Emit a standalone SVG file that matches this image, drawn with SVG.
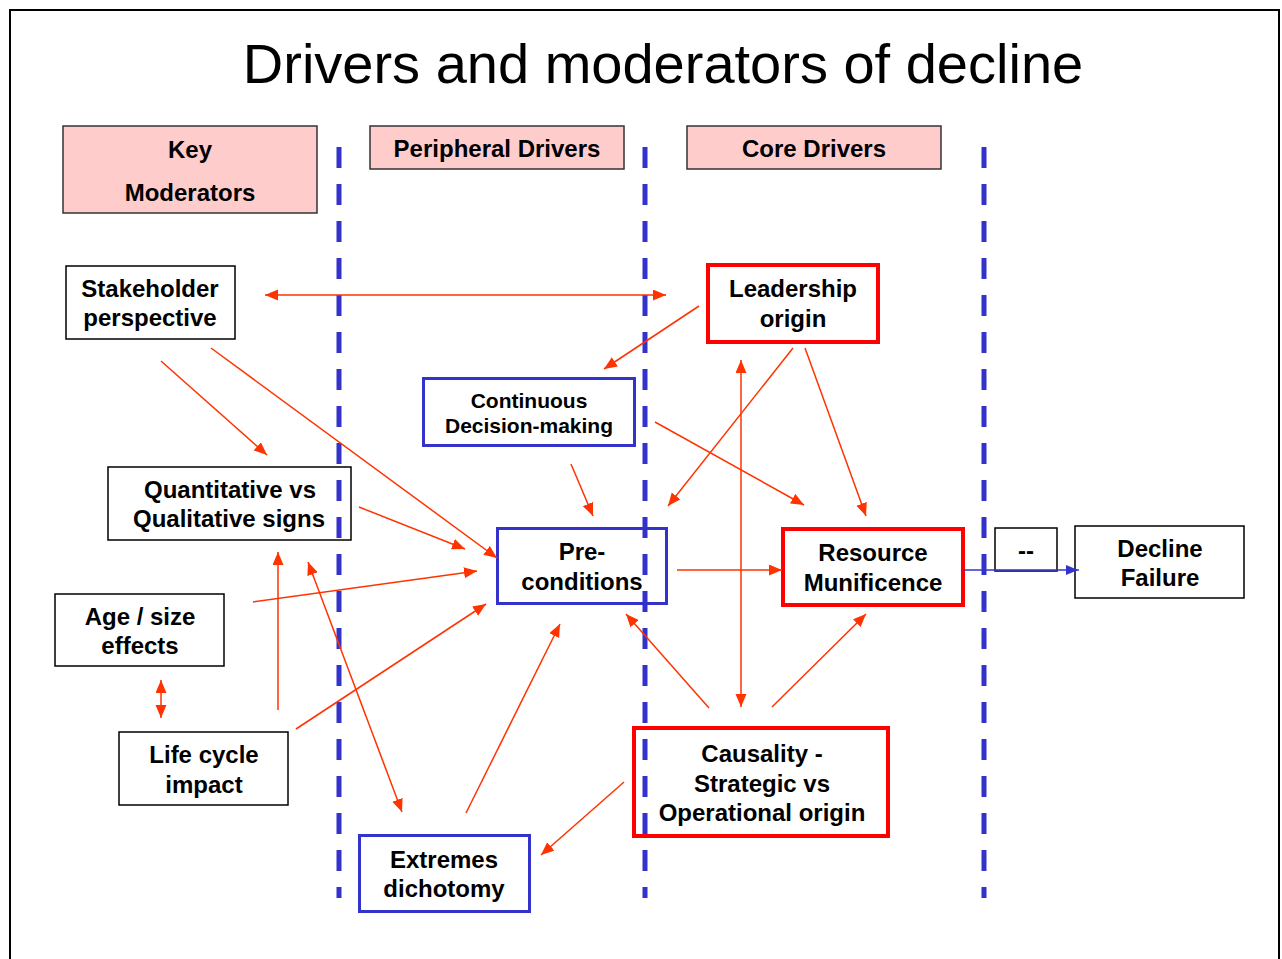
<svg xmlns="http://www.w3.org/2000/svg" width="1282" height="959" viewBox="0 0 1282 959">
<style>
  .t{font-family:"Liberation Sans",Arial,sans-serif;font-weight:bold;font-size:24px;fill:#000;text-anchor:middle}
  .s{font-size:21px}
  .hdr{fill:#FFCCCC;stroke:#333;stroke-width:1.5}
  .blk{fill:none;stroke:#000;stroke-width:1.5}
  .red{fill:none;stroke:#FF0000;stroke-width:4}
  .blu{fill:none;stroke:#3333CC;stroke-width:3}
  .dash{stroke:#3333CC;stroke-width:5;stroke-dasharray:21 16}
  .c{stroke:#FF3300;stroke-width:1.5;fill:none;marker-end:url(#ah)}
  .d{marker-start:url(#ah)}
</style>
<defs>
  <marker id="ah" markerUnits="userSpaceOnUse" markerWidth="14" markerHeight="12" refX="13" refY="5.5" orient="auto-start-reverse">
    <path d="M0,0 L13,5.5 L0,11 z" fill="#FF3300"/>
  </marker>
  <marker id="ahb" markerUnits="userSpaceOnUse" markerWidth="14" markerHeight="12" refX="13" refY="5" orient="auto">
    <path d="M0,0 L12,5 L0,10 z" fill="#3333CC"/>
  </marker>
</defs>
<rect x="0" y="0" width="1282" height="959" fill="#fff"/>
<rect x="10" y="10" width="1269" height="960" fill="none" stroke="#000" stroke-width="2"/>
<text x="663" y="83" style="font-family:'Liberation Sans',Arial,sans-serif;font-size:56px;text-anchor:middle">Drivers and moderators of decline</text>

<g id="dividers">
  <line class="dash" x1="339" y1="147" x2="339" y2="898"/>
  <line class="dash" x1="645" y1="147" x2="645" y2="898"/>
  <line class="dash" x1="984" y1="147" x2="984" y2="898"/>
</g>

<g id="hdr-key"><rect class="hdr" x="63" y="126" width="254" height="87"/><text class="t" x="190" y="158">Key</text><text class="t" x="190" y="201">Moderators</text></g>
<g id="hdr-peripheral"><rect class="hdr" x="370" y="126" width="254" height="43"/><text class="t" x="497" y="157">Peripheral Drivers</text></g>
<g id="hdr-core"><rect class="hdr" x="687" y="126" width="254" height="43"/><text class="t" x="814" y="157">Core Drivers</text></g>

<g id="stakeholder"><rect class="blk" x="66" y="266" width="169" height="73"/><text class="t" x="150" y="297">Stakeholder</text><text class="t" x="150" y="326">perspective</text></g>
<g id="leadership"><rect class="red" x="708" y="265" width="170" height="77"/><text class="t" x="793" y="297">Leadership</text><text class="t" x="793" y="327">origin</text></g>
<g id="continuous"><rect class="blu" x="423.5" y="378.5" width="211" height="67"/><text class="t s" x="529" y="408">Continuous</text><text class="t s" x="529" y="433">Decision-making</text></g>
<g id="quantitative"><rect class="blk" x="108" y="467" width="243" height="73"/><text class="t" x="230" y="498">Quantitative vs</text><text class="t" x="229" y="527">Qualitative signs</text></g>
<g id="preconditions"><rect class="blu" x="497.5" y="528.5" width="169" height="75"/><text class="t" x="582" y="560">Pre-</text><text class="t" x="582" y="590">conditions</text></g>
<g id="resource"><rect class="red" x="783" y="529" width="180" height="76"/><text class="t" x="873" y="561">Resource</text><text class="t" x="873" y="591">Munificence</text></g>
<g id="dashbox"><rect class="blk" x="995" y="528" width="62" height="43"/><text class="t" x="1026" y="559">--</text></g>
<g id="decline"><rect class="blk" x="1075" y="526" width="169" height="72"/><text class="t" x="1160" y="557">Decline</text><text class="t" x="1160" y="586">Failure</text></g>
<g id="agesize"><rect class="blk" x="55" y="594" width="169" height="72"/><text class="t" x="140" y="625">Age / size</text><text class="t" x="140" y="654">effects</text></g>
<g id="lifecycle"><rect class="blk" x="119" y="732" width="169" height="73"/><text class="t" x="204" y="763">Life cycle</text><text class="t" x="204" y="793">impact</text></g>
<g id="extremes"><rect class="blu" x="359.5" y="835.5" width="170" height="76"/><text class="t" x="444" y="868">Extremes</text><text class="t" x="444" y="897">dichotomy</text></g>
<g id="causality"><rect class="red" x="634" y="728" width="254" height="108"/><text class="t" x="762" y="762">Causality -</text><text class="t" x="762" y="792">Strategic vs</text><text class="t" x="762" y="821">Operational origin</text></g>

<g id="connectors">
  <line class="c d" x1="265" y1="295" x2="666" y2="295"/>
  <line class="c" x1="699" y1="306" x2="604" y2="369"/>
  <line class="c" x1="161" y1="361" x2="267" y2="455"/>
  <line class="c" x1="211" y1="348" x2="497" y2="558"/>
  <line class="c" x1="571" y1="464" x2="593" y2="516"/>
  <line class="c" x1="655" y1="422" x2="804" y2="505"/>
  <line class="c" x1="793" y1="348" x2="668" y2="506"/>
  <line class="c" x1="805" y1="348" x2="866" y2="516"/>
  <line class="c d" x1="741" y1="360" x2="741" y2="707"/>
  <line class="c" x1="359" y1="507" x2="465" y2="549"/>
  <line class="c" x1="253" y1="602" x2="477" y2="571"/>
  <line class="c" x1="278" y1="710" x2="278" y2="552"/>
  <line class="c" x1="296" y1="729" x2="486" y2="604"/>
  <line class="c d" x1="308" y1="562" x2="402" y2="812"/>
  <line class="c d" x1="161" y1="680" x2="161" y2="718"/>
  <line class="c" x1="466" y1="813" x2="560" y2="624"/>
  <line class="c" x1="709" y1="708" x2="626" y2="614"/>
  <line class="c" x1="772" y1="707" x2="866" y2="614"/>
  <line class="c" x1="624" y1="782" x2="541" y2="855"/>
  <line class="c" x1="677" y1="570" x2="782" y2="570"/>
  <line x1="963" y1="570" x2="1079" y2="570" stroke="#3333CC" stroke-width="1.5" marker-end="url(#ahb)"/>
</g>
</svg>
